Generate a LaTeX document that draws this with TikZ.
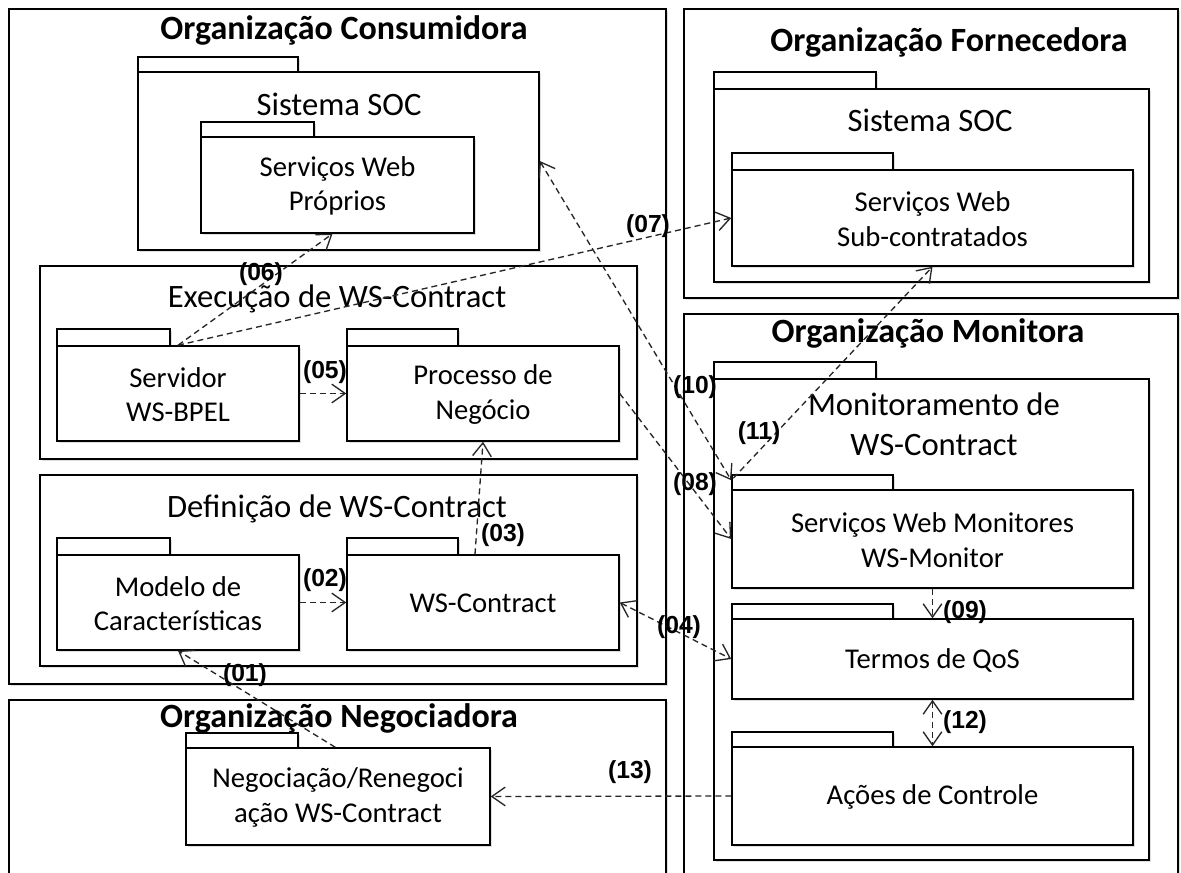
\documentclass[tikz,border=0pt]{standalone}
\usepackage{fontspec}
\setmainfont{Carlito}
\newfontfamily\numfont{Liberation Sans}
\usetikzlibrary{arrows.meta,calc,fit,shadows}

\tikzset{
  frame/.style={draw=black, line width=1.1pt, fill=white,
    drop shadow={shadow xshift=1.3pt, shadow yshift=-1.3pt, opacity=0.25}},
  pkgtab/.style={frame, inner sep=0pt},
  pkgbody/.style={frame, inner sep=0pt},
  pkglabel/.style={align=center, inner sep=0pt, font=\fontsize{21.5}{26}\selectfont},
  orgtitle/.style={font=\fontsize{25.5}{30}\selectfont\bfseries, anchor=base, inner sep=0pt},
  sectitle/.style={font=\fontsize{24.5}{30}\selectfont, anchor=base, inner sep=0pt, align=center},
  num/.style={font=\numfont\bfseries\fontsize{18.5}{20}\selectfont, inner sep=0pt},
  tipb/.tip={Straight Barb[length=10pt,width=14pt]},
  dep/.style={draw=black!85, line width=1pt, dash pattern=on 4.5pt off 3pt, -tipb},
  bidep/.style={dep, tipb-tipb},
}

% UML package: name, tab right x, tab top y, x1, y1, x2, y2, label
\newcommand\umlpkg[8]{%
  \node[pkgtab, fit={(#4,#3) (#2,#5)}] (#1tab) {};
  \node[pkgbody, fit={(#4,#5) (#6,#7)}] (#1) {};
  \node[pkglabel] (#1txt) at ($(#1.center)+(0,1)$) {#8};
}

\begin{document}
\begin{tikzpicture}[x=0.75pt, y=-0.75pt]
\useasboundingbox (0,0) rectangle (1181,873);
\fill[white] (0,0) rectangle (1181,873);
\clip (0,0) rectangle (1181,873);

% ---- Organização Consumidora ----
\node[frame, inner sep=0pt, fit={(9,9) (666,684)}] (cons) {};
\node[orgtitle] (consT) at (344,40) {Organização Consumidora};
\umlpkg{sisA}{298}{57}{138}{72}{539}{250}{}
\node[sectitle] (sisAT) at (339,116) {Sistema SOC};
\umlpkg{proprios}{314}{122}{201}{137}{474}{233}{Serviços Web\\Próprios}

\node[frame, inner sep=0pt, fit={(40,266) (637,459)}] (exec) {};
\node[sectitle] (execT) at (337,308) {Execução de WS-Contract};
\umlpkg{bpel}{170}{329}{57}{346}{299}{441}{Servidor\\WS-BPEL}
\umlpkg{proc}{458}{329}{347}{346}{619}{441}{Processo de\\Negócio}

\node[frame, inner sep=0pt, fit={(40,475) (637,666)}] (defi) {};
\node[sectitle] (defiT) at (337,517) {Definição de WS-Contract};
\umlpkg{modelo}{170}{538}{57}{555}{299}{650}{Modelo de\\Características}
\umlpkg{wsc}{458}{538}{347}{555}{619}{650}{WS-Contract}

% ---- Organização Negociadora ----
\node[frame, inner sep=0pt, fit={(9,700) (666,900)}] (nego) {};
\node[orgtitle] (negoT) at (339,727) {Organização Negociadora};
\umlpkg{neg}{298}{733}{186}{748}{490}{845}{Negociação/Renegoci\\ação WS-Contract}

% ---- Organização Fornecedora ----
\node[frame, inner sep=0pt, fit={(684,9) (1178,298)}] (forn) {};
\node[orgtitle] (fornT) at (949,52) {Organização Fornecedora};
\umlpkg{sisB}{876}{72}{714}{89}{1149}{282}{}
\node[sectitle] (sisBT) at (930,132) {Sistema SOC};
\umlpkg{sub}{893}{153}{732}{170}{1133}{266}{Serviços Web\\Sub-contratados}

% ---- Organização Monitora ----
\node[frame, inner sep=0pt, fit={(684,314) (1178,900)}] (moni) {};
\node[orgtitle] (moniT) at (928,343) {Organização Monitora};
\umlpkg{mon}{876}{362}{714}{379}{1149}{860}{}
\node[sectitle, anchor=center] (monT) at (934,424) {Monitoramento de\\WS-Contract};
\umlpkg{swm}{893}{475}{732}{490}{1133}{588}{Serviços Web Monitores\\WS-Monitor}
\umlpkg{qos}{893}{604}{732}{619}{1133}{699}{Termos de QoS}
\umlpkg{acoes}{893}{732}{732}{747}{1133}{845}{Ações de Controle}

% ---- dependencies ----
\draw[dep] ($(neg.north west)+(150,0)$) -- (modelo.south);
\draw[dep] (modelo.east) -- (wsc.west);
\draw[dep] ($(wsc.north)+(-8,0)$) -- (proc.south);
\draw[bidep] (wsc.east) -- (qos.west);
\draw[dep] (bpel.east) -- (proc.west);
\draw[dep] (bpel.north) -- ($(proprios.south)+(-5,0)$);
\draw[dep] (bpel.north) -- (sub.west);
\draw[dep] (proc.east) -- (swm.west);
\draw[dep] (swm.south) -- (qos.north);
\draw[bidep] (sisA.east) -- ($(swmtab.north west)+(0,6)$);
\draw[dep] ($(swmtab.north west)+(2,4)$) -- (sub.south);
\draw[bidep] (qos.south) -- (acoes.north);
\draw[dep] (acoes.west) -- (neg.east);

% ---- step numbers ----
\node[num] (l01) at (245,675) {(01)};
\node[num] (l02) at (325,580) {(02)};
\node[num] (l03) at (503,535) {(03)};
\node[num] (l04) at (679,627) {(04)};
\node[num] (l05) at (325,372) {(05)};
\node[num] (l06) at (261,274) {(06)};
\node[num] (l07) at (648,226) {(07)};
\node[num] (l08) at (695,484) {(08)};
\node[num] (l09) at (965,612) {(09)};
\node[num] (l10) at (695,387) {(10)};
\node[num] (l11) at (759,433) {(11)};
\node[num] (l12) at (965,722) {(12)};
\node[num] (l13) at (630,772) {(13)};
\end{tikzpicture}
\end{document}
